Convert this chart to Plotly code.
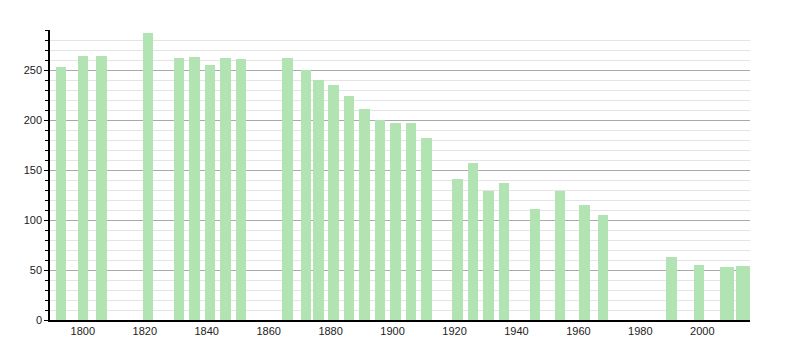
import plotly.graph_objects as go

years = [1793, 1800, 1806, 1821, 1831, 1836, 1841, 1846, 1851, 1866, 1872, 1876,
         1881, 1886, 1891, 1896, 1901, 1906, 1911, 1921, 1926, 1931, 1936, 1946,
         1954, 1962, 1968, 1990, 1999, 2008, 2013]
population = [253, 264, 264, 287, 262, 263, 255, 262, 261, 262, 250, 240,
              235, 224, 211, 200, 197, 197, 182, 141, 157, 129, 137, 111,
              129, 115, 105, 63, 55, 53, 54]
bar_widths = [3.4] * (len(years) - 2) + [4.5, 4.5]
x_ticks = [1800, 1820, 1840, 1860, 1880, 1900, 1920, 1940, 1960, 1980, 2000]
y_ticks = [0, 50, 100, 150, 200, 250]

fig = go.Figure(go.Bar(x=years, y=population, width=bar_widths,
                       marker=dict(color="#b1e3b3", line=dict(width=0))))

fig.update_layout(
    width=800, height=350,
    margin=dict(l=50, r=50, t=30, b=30),
    paper_bgcolor="white", plot_bgcolor="white",
    font=dict(family="Liberation Sans, Arial, sans-serif", size=11, color="#222"),
    showlegend=False,
    bargap=0,
)
fig.update_xaxes(range=[1789.4, 2015.4], tickvals=x_ticks, showgrid=False,
                 showline=True, linecolor="black", linewidth=1.5,
                 ticks="", zeroline=False)
fig.update_yaxes(range=[0, 290], tickvals=y_ticks, showgrid=True,
                 gridcolor="#aaaaaa", gridwidth=1,
                 showline=True, linecolor="black", linewidth=1.5,
                 ticks="outside", ticklen=4, tickcolor="black",
                 minor=dict(dtick=10, ticks="outside", ticklen=3, tickcolor="black",
                            showgrid=True, gridcolor="#e4e4e4", gridwidth=1),
                 zeroline=False)

fig.write_html("out.html")
